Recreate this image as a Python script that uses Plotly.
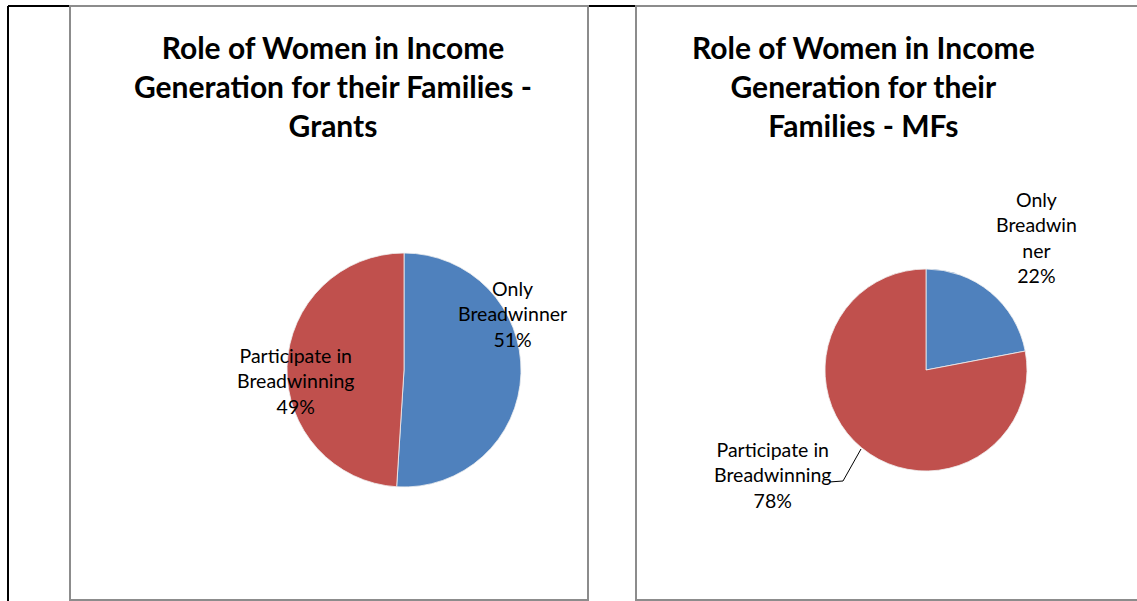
import plotly.graph_objects as go

W, H = 1137, 601

# Data
categories = ["Only Breadwinner", "Participate in Breadwinning"]
grants_values = [51, 49]
mfs_values = [22, 78]
colors = ["#4F81BD", "#C0504D"]

titles = [
    "Role of Women in Income<br>Generation for their Families -<br>Grants",
    "Role of Women in Income<br>Generation for their<br>Families - MFs",
]
grants_label_names = ["Only<br>Breadwinner", "Participate in<br>Breadwinning"]
mfs_label_names = ["Only<br>Breadwin<br>ner", "Participate in<br>Breadwinning"]

FONT = "Lato, Calibri, Carlito, sans-serif"


def px_x(x):
    return x / W


def px_y(y):
    return 1 - y / H


def pie_domain(cx, cy, r):
    return dict(x=[px_x(cx - r), px_x(cx + r)], y=[px_y(cy + r), px_y(cy - r)])


fig = go.Figure()

pies = [
    (grants_values, 404, 370, 117),
    (mfs_values, 926, 370, 101),
]
for vals, cx, cy, r in pies:
    fig.add_trace(go.Pie(
        labels=categories,
        values=vals,
        marker=dict(colors=colors, line=dict(color="#f0f0f0", width=0.8)),
        sort=False,
        direction="clockwise",
        rotation=0,
        textinfo="none",
        hoverinfo="label+percent",
        showlegend=False,
        domain=pie_domain(cx, cy, r),
    ))

shapes = []
# outer black frame
shapes.append(dict(type="line", xref="paper", yref="paper",
                   x0=px_x(8), x1=px_x(8), y0=px_y(6), y1=px_y(601),
                   line=dict(color="black", width=2)))
shapes.append(dict(type="line", xref="paper", yref="paper",
                   x0=px_x(8), x1=px_x(1137), y0=px_y(6), y1=px_y(6),
                   line=dict(color="black", width=2)))
# chart area borders
for x0, x1 in [(70, 588), (636, 1140)]:
    shapes.append(dict(type="rect", xref="paper", yref="paper",
                       x0=px_x(x0), x1=px_x(x1), y0=px_y(600), y1=px_y(6),
                       line=dict(color="#8c8c8c", width=2)))
# leader line for the MFs red slice label
shapes.append(dict(type="path", xref="paper", yref="paper",
                   path=f"M {px_x(861)} {px_y(449)} L {px_x(843)} {px_y(481)} L {px_x(829)} {px_y(482)}",
                   line=dict(color="black", width=1)))

annotations = []
for title, cx in zip(titles, [333, 863]):
    annotations.append(dict(
        text=f"<b>{title}</b>", x=px_x(cx), y=px_y(86), xref="paper", yref="paper",
        xanchor="center", yanchor="middle", showarrow=False,
        font=dict(family=FONT, size=30, color="black"),
    ))


def pct_text(name, vals, i):
    p = round(100 * vals[i] / sum(vals))
    return f"{name}<br>{p}%"


label_specs = [
    (grants_label_names[0], grants_values, 0, 512, 314),
    (grants_label_names[1], grants_values, 1, 295, 381),
    (mfs_label_names[0], mfs_values, 0, 1036, 237),
    (mfs_label_names[1], mfs_values, 1, 772, 475),
]
for name, vals, i, cx, cy in label_specs:
    annotations.append(dict(
        text=pct_text(name, vals, i), x=px_x(cx), y=px_y(cy), xref="paper", yref="paper",
        xanchor="center", yanchor="middle", showarrow=False, align="center",
        font=dict(family=FONT, size=19.5, color="black"),
    ))

fig.update_layout(
    width=W, height=H,
    margin=dict(l=0, r=0, t=0, b=0),
    paper_bgcolor="white",
    plot_bgcolor="white",
    shapes=shapes,
    annotations=annotations,
)

fig.write_html("out.html")
